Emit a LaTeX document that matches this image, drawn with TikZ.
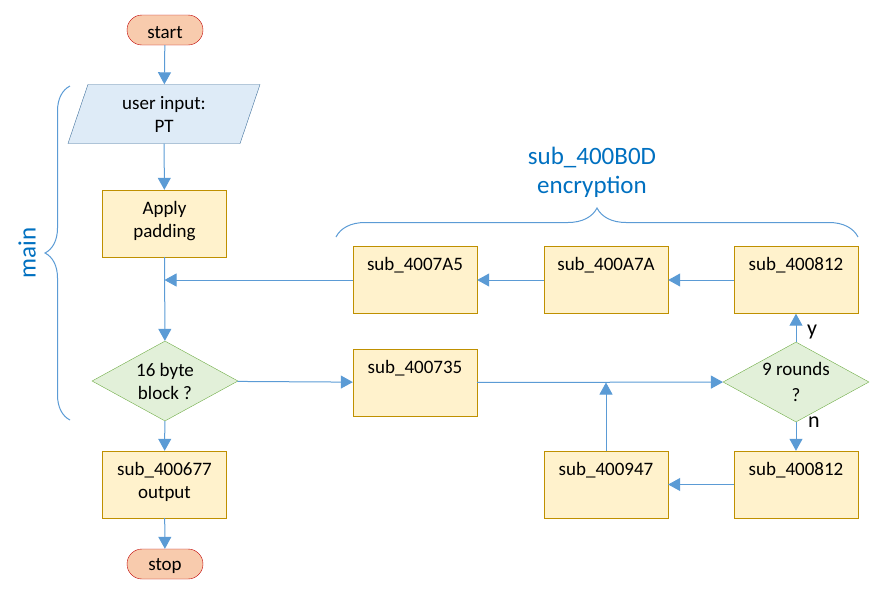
\documentclass[tikz,border=0pt]{standalone}
\usepackage{fontspec}
\setmainfont{Carlito}
\usetikzlibrary{arrows.meta,shapes.geometric,decorations.pathreplacing}
\definecolor{lineblue}{HTML}{5B9BD5}
\definecolor{labelblue}{HTML}{0070C0}
\definecolor{boxfill}{HTML}{FFF2CC}
\definecolor{boxgold}{HTML}{BF9000}
\definecolor{decfill}{HTML}{E2F0D9}
\definecolor{decgreen}{HTML}{70AD47}
\definecolor{infill}{HTML}{DEEBF7}
\definecolor{inblue}{HTML}{41719C}
\definecolor{termfill}{HTML}{F8CBAD}
\definecolor{termred}{HTML}{C00000}

\begin{document}
\begin{tikzpicture}[x=1pt,y=-1pt,
  every node/.style={font=\fontsize{19}{23}\selectfont},
  func/.style={draw=boxgold,fill=boxfill,text width=116pt,align=center,
    inner xsep=4pt,inner ysep=3pt,text height=21pt,text depth=40pt},
  term/.style={draw=termred,fill=termfill,rounded corners=15pt,
    minimum width=76pt,minimum height=30pt,inner sep=0pt,text height=17pt},
  decision/.style={diamond,draw=decgreen,fill=decfill,aspect=1.8,inner sep=0pt,
    minimum width=146pt,minimum height=80pt,align=center},
  inputbox/.style={trapezium,trapezium left angle=65,trapezium right angle=115,
    trapezium stretches body,draw=inblue,fill=infill,align=center,
    minimum width=192pt,minimum height=59pt},
  flow/.style={draw=lineblue,line width=1pt,-{Triangle[width=13pt,length=12pt]}},
  grpbrace/.style={draw=lineblue,line width=1pt,decorate},
  grplabel/.style={text=labelblue,font=\fontsize{25}{29}\selectfont},
  yn/.style={font=\fontsize{22}{26}\selectfont}]
\useasboundingbox (0,0) rectangle (895,600);

% main flow
\node[term] (start) at (165,30) {start};
\node[inputbox] (input) at (164,114) {user input:\\PT};
\node[func] (pad) at (164.5,223.5) {Apply\\padding};
\node[decision] (blk) at (165,381) {16 byte\\block ?};
\node[func] (out) at (164.5,484.5) {sub\_400677\\output};
\node[term] (stop) at (165,564) {stop};

% encryption
\node[func] (s7A5) at (415,280) {sub\_4007A5};
\node[func] (sA7A) at (606,280) {sub\_400A7A};
\node[func] (s812a) at (796,280) {sub\_400812};
\node[func] (s735) at (415,382.5) {sub\_400735};
\node[decision] (rnd) at (796,382) {9 rounds\\[3pt]?};
\node[func] (s947) at (606,484.5) {sub\_400947};
\node[func] (s812b) at (796,484.5) {sub\_400812};
\node[yn] (ylbl) at (812,332) {y};
\node[yn] (nlbl) at (814,422) {n};

\draw[flow] (start) -- (input);
\draw[flow] (input) -- (pad);
\draw[flow] (pad) -- (blk);
\draw[flow] (blk) -- (out);
\draw[flow] (out) -- (stop);
\draw[flow] (blk) -- (s735);
\draw[flow] (s735) -- (rnd);
\draw[flow] (rnd) -- (s812a);
\draw[flow] (rnd) -- (s812b);
\draw[flow] (s812b) -- (s947);
\draw[flow] (s947.north) -- (s947.north |- s735.east);
\draw[flow] (s812a) -- (sA7A);
\draw[flow] (sA7A) -- (s7A5);
\draw[flow] (s7A5.west) -- (s7A5.west -| pad.south);

% braces
\draw[grpbrace,decoration={brace,amplitude=25pt}] (70,420) -- (70,86);
\node[grplabel,rotate=90] (mainlbl) at (27,253) {main};
\draw[grpbrace,decoration={brace,amplitude=29pt}] (336,237) -- (858,237);
\node[grplabel,align=center] (enclbl) at (592,172) {sub\_400B0D\\encryption};
\end{tikzpicture}
\end{document}
